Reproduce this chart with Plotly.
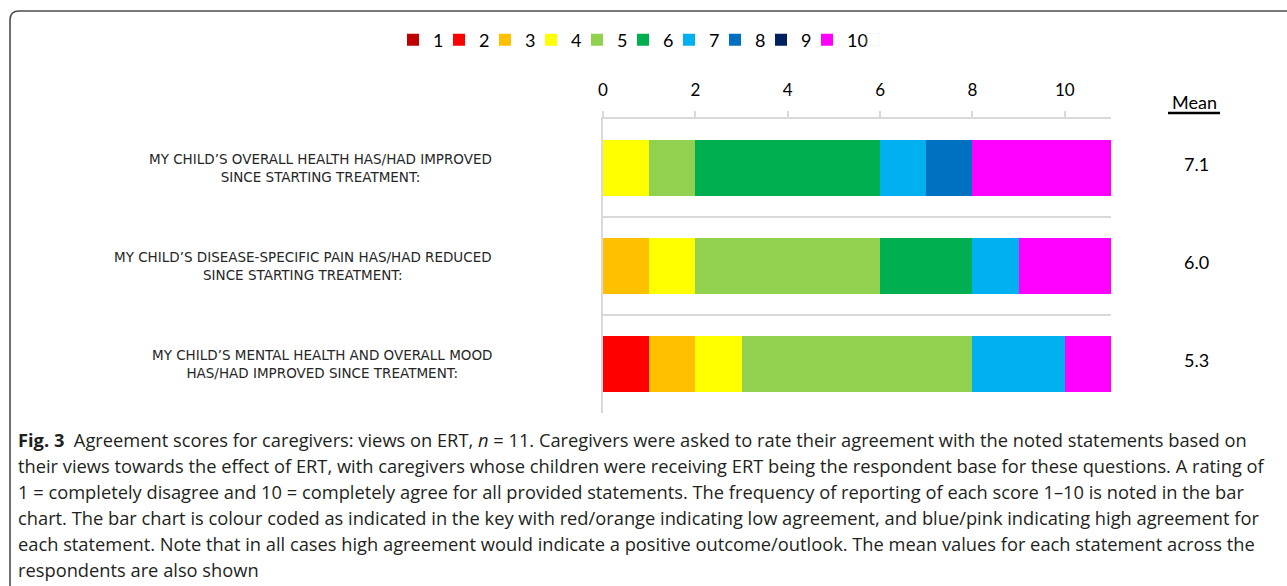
import plotly.graph_objects as go

# ---------------- data ----------------
statements = [
    "MY CHILD’S OVERALL HEALTH HAS/HAD IMPROVED<br>SINCE STARTING TREATMENT:",
    "MY CHILD’S DISEASE-SPECIFIC PAIN HAS/HAD REDUCED<br>SINCE STARTING TREATMENT:",
    "MY CHILD’S MENTAL HEALTH AND OVERALL MOOD<br>HAS/HAD IMPROVED SINCE TREATMENT:",
]
scores = ["1", "2", "3", "4", "5", "6", "7", "8", "9", "10"]
# frequency of each score (1..10) for each statement
counts_overall = [0, 0, 0, 1, 1, 4, 1, 1, 0, 3]
counts_pain = [0, 0, 1, 1, 4, 2, 1, 0, 0, 2]
counts_mental = [0, 1, 1, 1, 5, 0, 2, 0, 0, 1]
means = ["7.1", "6.0", "5.3"]
colors = ["#C00000", "#FF0000", "#FFC000", "#FFFF00", "#92D050",
          "#00B050", "#00B0F0", "#0070C0", "#002060", "#FF00FF"]
tick_vals = [0, 2, 4, 6, 8, 10]

caption_lines = [
    "<b>Fig. 3</b>  Agreement scores for caregivers: views on ERT, <i>n</i> = 11. Caregivers were asked to rate their agreement with the noted statements based on",
    "their views towards the effect of ERT, with caregivers whose children were receiving ERT being the respondent base for these questions. A rating of",
    "1 = completely disagree and 10 = completely agree for all provided statements. The frequency of reporting of each score 1–10 is noted in the bar",
    "chart. The bar chart is colour coded as indicated in the key with red/orange indicating low agreement, and blue/pink indicating high agreement for",
    "each statement. Note that in all cases high agreement would indicate a positive outcome/outlook. The mean values for each statement across the",
    "respondents are also shown",
]

# ---------------- geometry helpers ----------------
W, H = 1287, 586
ML, MR, MT, MB = 603, 176, 119, 173
PW, PH = W - ML - MR, H - MT - MB


def px(x):
    return (x - ML) / PW


def py(y):
    return (H - MB - y) / PH


CHART_FONT = "Lato"
CAP_FONT = "Open Sans"

fig = go.Figure()
all_counts = [counts_overall, counts_pain, counts_mental]
for i, s in enumerate(scores):
    fig.add_trace(go.Bar(
        y=statements,
        x=[c[i] for c in all_counts],
        name=s,
        orientation="h",
        marker=dict(color=colors[i], line=dict(width=0)),
        hoverinfo="x+y+name",
    ))
# invisible spacer entry so that the last legend label ("10") is not clipped
fig.add_trace(go.Bar(y=[None], x=[None], name="", orientation="h",
                     marker=dict(color="rgba(0,0,0,0)"), hoverinfo="skip"))

fig.update_layout(
    width=W, height=H,
    barmode="stack",
    bargap=0.43,
    plot_bgcolor="white",
    paper_bgcolor="white",
    margin=dict(l=ML, r=MR, t=MT, b=MB, autoexpand=False),
    font=dict(family=CHART_FONT, color="#000000"),
    legend=dict(
        orientation="h",
        x=px(393), xanchor="left",
        y=py(40), yanchor="middle",
        font=dict(size=18, family=CHART_FONT, color="#000"),
        traceorder="normal",
        itemwidth=30,
        entrywidth=1, entrywidthmode="pixels",
        bgcolor="rgba(0,0,0,0)",
    ),
    xaxis=dict(
        side="top",
        range=[0, 11],
        tickvals=tick_vals,
        ticks="outside", ticklen=6, tickcolor="#d9d9d9", tickwidth=1.5,
        showline=True, linecolor="#d9d9d9", linewidth=2,
        showgrid=False, zeroline=False,
        tickfont=dict(size=17, family=CHART_FONT, color="#000"),
        ticklabelstandoff=8,
        fixedrange=True,
    ),
    yaxis=dict(
        autorange="reversed",
        showticklabels=False,
        showline=True, linecolor="#d9d9d9", linewidth=2,
        showgrid=False, zeroline=False, ticks="",
        fixedrange=True,
    ),
)

# separators between statements
for yb in [0.5, 1.5]:
    fig.add_shape(type="line", xref="x", yref="y", x0=0, x1=11, y0=yb, y1=yb,
                  line=dict(color="#d9d9d9", width=2), layer="below")

# statement labels and means
for i, st in enumerate(statements):
    fig.add_annotation(
        x=px(494), xref="paper", xanchor="right",
        y=st, yref="y", yanchor="middle",
        text=st, showarrow=False, align="center",
        font=dict(size=13.5, family="DejaVu Sans", color="#262626"),
    )
    fig.add_annotation(
        x=px(1196), xref="paper", xanchor="center",
        y=st, yref="y", yanchor="middle", yshift=4,
        text=means[i], showarrow=False,
        font=dict(size=18, family=CHART_FONT, color="#000"),
    )

fig.add_annotation(
    x=px(1194), xref="paper", xanchor="center",
    y=py(102), yref="paper", yanchor="middle",
    text="Mean", showarrow=False,
    font=dict(size=18, family=CHART_FONT, color="#000"),
)
fig.add_shape(type="line", xref="paper", yref="paper",
              x0=px(1168), x1=px(1220), y0=py(113), y1=py(113),
              line=dict(color="#000", width=2.5))

# caption
for k, line in enumerate(caption_lines):
    fig.add_annotation(
        x=px(16), xref="paper", xanchor="left",
        y=py(439 + 26 * k), yref="paper", yanchor="middle",
        text=line, showarrow=False, align="left",
        font=dict(size=18.3, family=CAP_FONT, color="#231f20"),
    )

# frame: top and left border with rounded top-left corner
r = 9
path = (f"M {px(10)},{py(H + 2)} L {px(10)},{py(11 + r)} "
        f"Q {px(10)},{py(11)} {px(10 + r)},{py(11)} L {px(W + 2)},{py(11)}")
fig.add_shape(type="path", xref="paper", yref="paper", path=path,
              line=dict(color="#4d4d4d", width=1.6))

fig.write_html("out.html", config={"displayModeBar": False},
               post_script="document.body.style.margin='0';")
